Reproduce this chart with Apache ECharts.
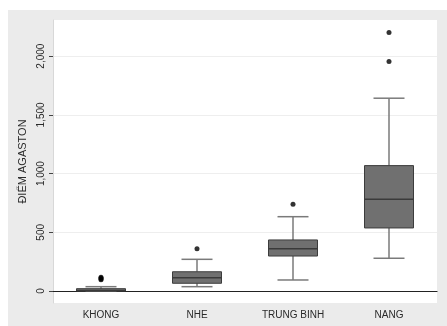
<!DOCTYPE html>
<html>
<head>
<meta charset="utf-8">
<script src="https://cdn.jsdelivr.net/npm/echarts@6/dist/echarts.min.js"></script>
<style>html,body{margin:0;padding:0;background:#fff}#c{width:447px;height:326px}</style>
</head>
<body>
<div id="c"></div>
<script>
const categories = ['KHONG', 'NHE', 'TRUNG BINH', 'NANG'];
// [min whisker, Q1, median, Q3, max whisker]
const boxStats = [
  [0, 0, 5, 20, 37],
  [37, 66, 113, 164, 270],
  [94, 298, 360, 435, 633],
  [279, 537, 781, 1068, 1642]
];
// [category index, value]
const outliers = [
  [0, 95], [0, 102], [0, 110], [0, 117],
  [1, 360],
  [2, 739],
  [3, 1954], [3, 2201]
];
const yTicks = [0, 500, 1000, 1500, 2000];

const chart = echarts.init(document.getElementById('c'), null, {renderer: 'canvas'});
const boxData = boxStats.map((s, i) => [i].concat(s));

function renderBox(params, api) {
  const x = api.value(0);
  const pMin = api.coord([x, api.value(1)]);
  const pQ1 = api.coord([x, api.value(2)]);
  const pMed = api.coord([x, api.value(3)]);
  const pQ3 = api.coord([x, api.value(4)]);
  const pMax = api.coord([x, api.value(5)]);
  const bw = 49, cw = 31;
  const cx = pMed[0];
  const wStyle = {stroke: '#7a7a7a', lineWidth: 1.5};
  return {
    type: 'group',
    children: [
      {type: 'line', shape: {x1: cx, y1: pQ3[1], x2: cx, y2: pMax[1]}, style: wStyle},
      {type: 'line', shape: {x1: cx, y1: pQ1[1], x2: cx, y2: pMin[1]}, style: wStyle},
      {type: 'line', shape: {x1: cx - cw / 2, y1: pMax[1], x2: cx + cw / 2, y2: pMax[1]}, style: wStyle},
      {type: 'line', shape: {x1: cx - cw / 2, y1: pMin[1], x2: cx + cw / 2, y2: pMin[1]}, style: wStyle},
      {type: 'rect', shape: {x: cx - bw / 2, y: pQ3[1], width: bw, height: Math.max(pQ1[1] - pQ3[1], 2)},
        style: {fill: '#707070', stroke: '#3c3c3c', lineWidth: 1}},
      {type: 'line', shape: {x1: cx - bw / 2, y1: pMed[1], x2: cx + bw / 2, y2: pMed[1]},
        style: {stroke: '#3a3a3a', lineWidth: 1.5}}
    ]
  };
}

chart.setOption({
  backgroundColor: '#ffffff',
  animation: false,
  graphic: [{
    type: 'rect', left: 8, top: 10, z: -10, silent: true,
    shape: {width: 439, height: 316}, style: {fill: '#ebebeb'}
  }],
  grid: {left: 53, right: 10, top: 20, bottom: 23, show: true, backgroundColor: '#ffffff', borderWidth: 0},
  xAxis: {
    type: 'category', data: categories, boundaryGap: true,
    axisLine: {lineStyle: {color: '#222', width: 1.2}},
    axisTick: {show: false},
    axisLabel: {color: '#2a2a2a', fontSize: 10, fontFamily: 'Liberation Sans, Arial, sans-serif', margin: 7}
  },
  yAxis: {
    type: 'value', min: -102, max: 2308,
    name: 'ĐIỂM AGASTON', nameLocation: 'middle', nameRotate: 90, nameGap: 24,
    nameTextStyle: {color: '#2a2a2a', fontSize: 11, fontFamily: 'Liberation Sans, Arial, sans-serif'},
    axisLine: {show: true, lineStyle: {color: '#d8d8d8', width: 1}},
    axisTick: {show: true, length: 4, lineStyle: {color: '#444'}, customValues: yTicks},
    axisLabel: {rotate: 90, color: '#2a2a2a', fontSize: 10, margin: 7,
      fontFamily: 'Liberation Sans, Arial, sans-serif', customValues: yTicks,
      formatter: v => v.toLocaleString('en-US')},
    splitLine: {show: true, lineStyle: {color: '#eeeeee', width: 1}}
  },
  series: [
    {type: 'custom', renderItem: renderBox, data: boxData, encode: {x: 0, y: [1, 2, 3, 4, 5]}, z: 2},
    {type: 'scatter', data: outliers, symbol: 'circle', symbolSize: 5,
      itemStyle: {color: '#000'}, z: 3}
  ]
});
</script>
</body>
</html>
